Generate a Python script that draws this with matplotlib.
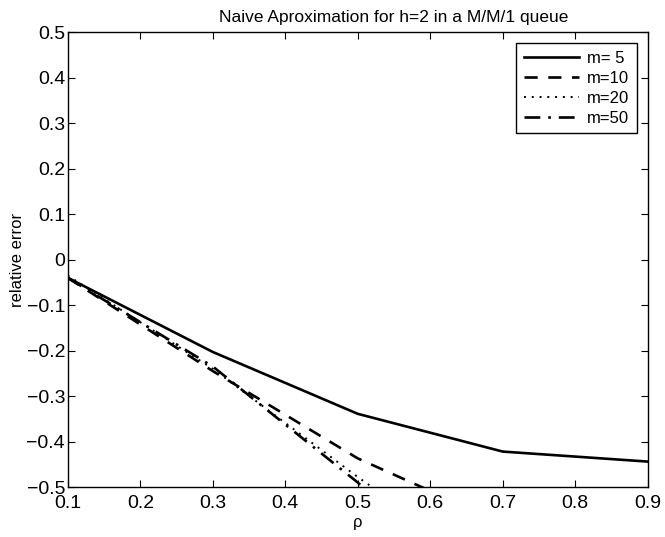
import matplotlib
matplotlib.use("Agg")
import matplotlib.pyplot as plt

plt.rcParams['font.family'] = ['Liberation Sans', 'DejaVu Sans']

# rho values where the error was evaluated
rho = [0.1, 0.3, 0.5, 0.7, 0.9]

err_m5 = [-0.04, -0.203, -0.339, -0.422, -0.444]
err_m10 = [-0.04, -0.245, -0.437, -0.58, -0.65]
err_m20 = [-0.035, -0.24, -0.478, -0.70, -0.85]
err_m50 = [-0.04, -0.235, -0.49, -0.78, -0.95]

labels = ["m= 5", "m=10", "m=20", "m=50"]

xticks = [0.1, 0.2, 0.3, 0.4, 0.5, 0.6, 0.7, 0.8, 0.9]
yticks = [-0.5, -0.4, -0.3, -0.2, -0.1, 0, 0.1, 0.2, 0.3, 0.4, 0.5]
yticklabels = ["\u22120.5", "\u22120.4", "\u22120.3", "\u22120.2", "\u22120.1", "0",
               "0.1", "0.2", "0.3", "0.4", "0.5"]

fig = plt.figure(figsize=(6.65, 5.37), dpi=100)
ax = fig.add_axes([0.102, 0.093, 0.872, 0.847])

ax.plot(rho, err_m5, color="black", lw=1.9, ls="-", label=labels[0])
ax.plot(rho, err_m10, color="black", lw=1.9, ls=(0, (5, 4)), label=labels[1])
ax.plot(rho, err_m20, color="black", lw=1.4, ls=(0, (1, 3)), label=labels[2])
ax.plot(rho, err_m50, color="black", lw=1.9, ls=(0, (6, 3, 1, 3)), label=labels[3])

ax.set_xlim(0.1, 0.9)
ax.set_ylim(-0.5, 0.5)
ax.set_xticks(xticks)
ax.set_yticks(yticks)
ax.set_yticklabels(yticklabels)
ax.tick_params(direction="in", top=True, right=True, labelsize=14, length=5)
ax.tick_params(axis="x", pad=6)
ax.tick_params(axis="y", pad=2)
for s in ax.spines.values():
    s.set_linewidth(1.0)

ax.set_xlabel("ρ", fontsize=12, labelpad=2)
ax.set_ylabel("relative error", fontsize=12, labelpad=1)
ax.set_title("Naive Aproximation for h=2 in a M/M/1 queue", fontsize=12.5,
             pad=7, x=0.562)

leg = ax.legend(loc="upper right", fontsize=12, handlelength=3.3, fancybox=False,
                framealpha=1, edgecolor="black", borderaxespad=0.65,
                labelspacing=0.3, handletextpad=0.5, borderpad=0.45)
leg.get_frame().set_linewidth(1.0)

fig.savefig("out.png", dpi=100)
